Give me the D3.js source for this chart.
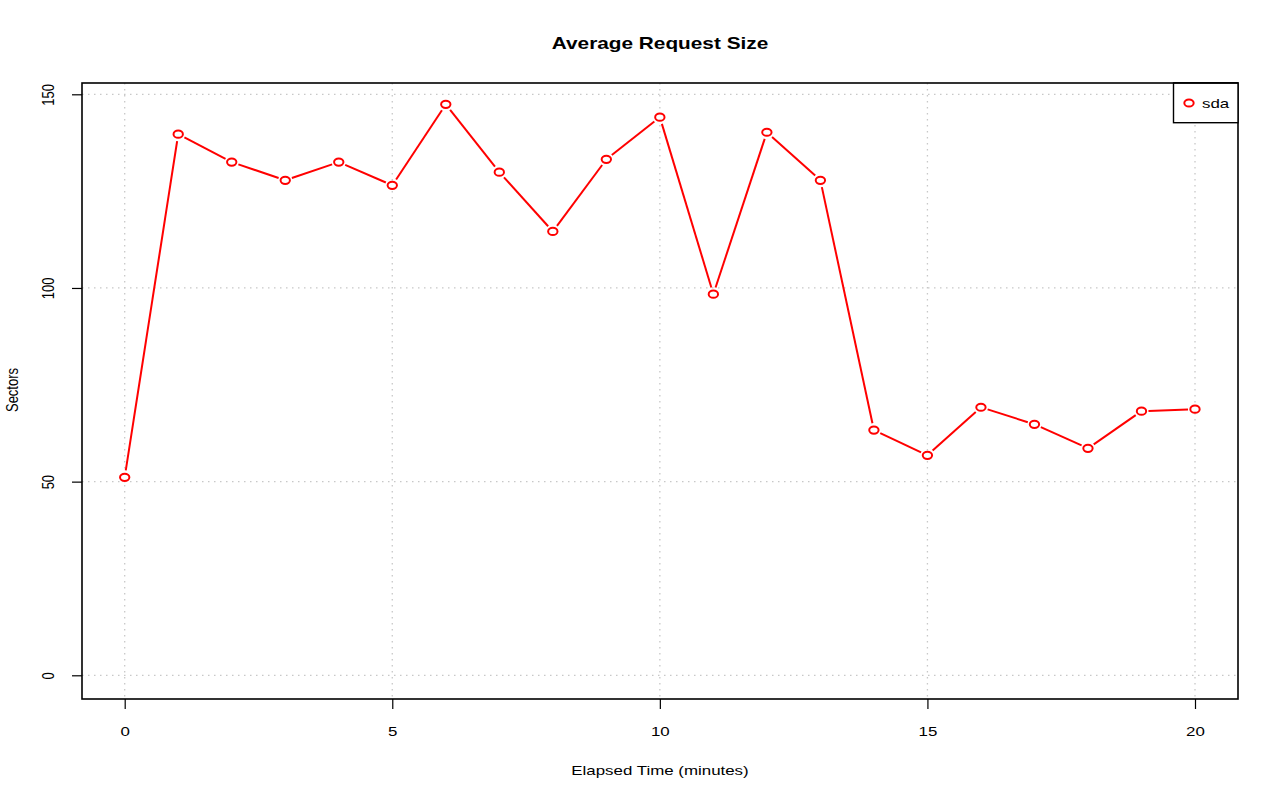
<!DOCTYPE html>
<html><head><meta charset="utf-8">
<script src="https://cdn.jsdelivr.net/npm/d3@7"></script>
<style>body{margin:0;background:#fff}svg{display:block;font-family:"Liberation Sans",Arial,Helvetica,sans-serif}</style>
</head><body><svg id="c" width="1280" height="801"></svg>
<script>
const minutes = [0,1,2,3,4,5,6,7,8,9,10,11,12,13,14,15,16,17,18,19,20];
const sectors = [51.1,139.7,132.5,127.8,132.5,126.5,147.4,129.9,114.6,133.2,144.1,98.4,140.2,127.8,63.3,56.8,69.2,64.8,58.6,68.2,68.7];
const xTicks = [0,5,10,15,20];
const yTicks = [0,50,100,150];
const seriesName = "sda";

const K = 1.3;      // horizontal stretch of the original rendering
const FS = 13;      // base font size
const svg = d3.select("#c");
const L=82, R=1238, T=83, B=699;
const x = d3.scaleLinear().domain([0,20]).range([124.7,1195]);
const y = d3.scaleLinear().domain([0,150]).range([675.3,94.3]);

function txt(px,py,str,size,opt={}){
  const t = svg.append("text")
    .attr("transform",`translate(${px},${py}) scale(${K},1)`+(opt.rot?" rotate(-90)":""))
    .attr("text-anchor",opt.anchor||"middle").attr("font-size",size).attr("fill","#000")
    .text(str);
  if(opt.bold) t.attr("font-weight","bold");
  return t;
}

// grid
const g = svg.append("g");
g.selectAll(".gx").data(xTicks).join("line")
 .attr("x1",d=>x(d)).attr("x2",d=>x(d)).attr("y1",T).attr("y2",B)
 .attr("stroke","#c8c8c8").attr("stroke-width",1.3).attr("stroke-dasharray","1.5,4.5");
g.selectAll(".gy").data(yTicks).join("line")
 .attr("y1",d=>y(d)).attr("y2",d=>y(d)).attr("x1",L).attr("x2",R)
 .attr("stroke","#c8c8c8").attr("stroke-width",1.3).attr("stroke-dasharray","1.5,4.5");

// axes (ticks through d3 axes, labels stretched like the original)
const xa = svg.append("g").attr("transform",`translate(0,${B})`)
 .call(d3.axisBottom(x).tickValues(xTicks).tickSize(10).tickFormat(d3.format("d")));
const ya = svg.append("g").attr("transform",`translate(${L},0)`)
 .call(d3.axisLeft(y).tickValues(yTicks).tickSize(10).tickFormat(d3.format("d")));
[xa,ya].forEach(a=>{a.select(".domain").remove();a.selectAll("line").attr("stroke","#000").attr("stroke-width",1.2);
 a.selectAll("text").attr("font-size",FS).attr("fill","#000").attr("font-family","Liberation Sans, Arial, sans-serif")
  .attr("x",0).attr("y",0).attr("dy",null).attr("text-anchor","middle");});
xa.selectAll("text").attr("transform",`translate(0,37) scale(${K},1)`);
ya.selectAll("text").attr("transform",`translate(-28,0) scale(${K},1) rotate(-90)`);

// box
svg.append("rect").attr("x",L).attr("y",T).attr("width",R-L).attr("height",B-T)
 .attr("fill","none").attr("stroke","#000").attr("stroke-width",1.6);

// line with gaps
const pts = minutes.map((m,i)=>[x(m),y(sectors[i])]);
const gap = 7;
const segs = [];
for(let i=0;i<pts.length-1;i++){
  const [x1,y1]=pts[i],[x2,y2]=pts[i+1];
  const dx=x2-x1,dy=y2-y1,len=Math.hypot(dx,dy);
  if(len>2*gap) segs.push([x1+dx/len*gap,y1+dy/len*gap,x2-dx/len*gap,y2-dy/len*gap]);
}
svg.append("g").selectAll("line").data(segs).join("line")
 .attr("x1",d=>d[0]).attr("y1",d=>d[1]).attr("x2",d=>d[2]).attr("y2",d=>d[3])
 .attr("stroke","#ff0000").attr("stroke-width",2);
svg.append("g").selectAll("ellipse").data(pts).join("ellipse")
 .attr("cx",d=>d[0]).attr("cy",d=>d[1]).attr("rx",3.6*K).attr("ry",3.6)
 .attr("fill","#fff").attr("stroke","#ff0000").attr("stroke-width",2);

// legend
svg.append("rect").attr("x",1173.5).attr("y",T).attr("width",R-1173.5).attr("height",122.7-T)
 .attr("fill","#fff").attr("stroke","#000").attr("stroke-width",1.4);
svg.append("line").attr("x1",1173.5).attr("x2",R).attr("y1",T).attr("y2",T).attr("stroke","#000").attr("stroke-width",1.6);
svg.append("ellipse").attr("cx",1189).attr("cy",103).attr("rx",3.6*K).attr("ry",3.6).attr("fill","#fff").attr("stroke","#ff0000").attr("stroke-width",2);
txt(1202,108,seriesName,FS,{anchor:"start"});

// titles
txt(660,49,"Average Request Size",16,{bold:true});
txt(660,775,"Elapsed Time (minutes)",FS);
txt(18,390,"Sectors",FS,{rot:true});
</script></body></html>
